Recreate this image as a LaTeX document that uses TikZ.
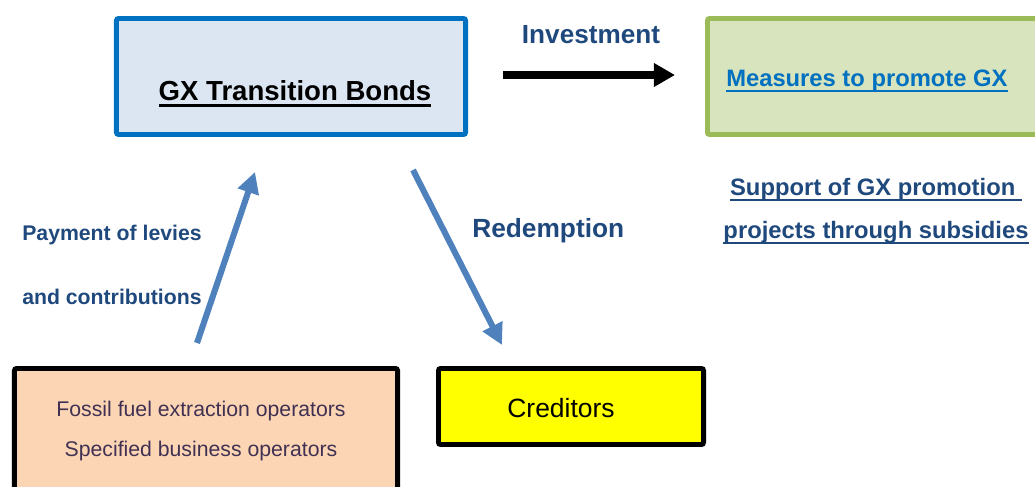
\documentclass[tikz,border=0pt]{standalone}
\usepackage{fontspec}
\setmainfont{Liberation Sans}
\usetikzlibrary{
    arrows.meta,
    positioning
}
% underline with a rule that scales with the font
\newcommand{\ulined}[1]{\setbox0=\hbox{#1}\rlap{\rule[-0.25em]{\wd0}{0.09em}}\box0}

\begin{document}
\begin{tikzpicture}[
    x=0.025cm, y=-0.025cm,
    box/.style={
    	draw, line width=3.5pt,
    	rounded corners=1.5pt, inner sep=0pt, anchor=center
    }, lbl/.style={
    	anchor=base, inner sep=0pt, text=my-navy,
    	font=\fontsize{15.1}{18}\selectfont\bfseries
    }, pil/.style={
    	-{Triangle[length=15pt, width=15pt]},
    	line width=4.3pt, draw=my-steel
    }]
    \definecolor{my-navy}{RGB}{31, 73, 125}
    \definecolor{my-blue}{RGB}{0, 112, 192}
    \definecolor{my-lightblue}{RGB}{220, 230, 242}
    \definecolor{my-green}{RGB}{155, 187, 89}
    \definecolor{my-lightgreen}{RGB}{215, 228, 189}
    \definecolor{my-steel}{RGB}{79, 129, 189}
    \definecolor{my-peach}{RGB}{252, 213, 181}
    \definecolor{my-purple}{RGB}{64, 49, 82}
    \definecolor{my-yellow}{RGB}{255, 255, 0}

    \useasboundingbox (0,0) rectangle (1035,487);

    %%% BOXES
    \node[box, draw=my-blue, fill=my-lightblue, minimum width=8.725cm, minimum height=2.9cm] (bonds) at (291,76.5) {};
    \node[lbl, text=black, font=\fontsize{19.6}{23}\selectfont\bfseries] (bonds-text) at (295,100) {\ulined{GX Transition Bonds}};

    \node[box, draw=my-green, fill=my-lightgreen, minimum width=8.5625cm, minimum height=2.9cm] (measures) at (878.75,76.5) {};
    \node[lbl, anchor=base west, text=my-blue, font=\fontsize{16.9}{20}\selectfont\bfseries] (measures-text) at (726,86) {\ulined{Measures to promote GX}};

    \node[box, fill=my-peach, minimum width=9.575cm, minimum height=3.7875cm] (operators) at (206,444.25) {};
    \node[lbl, text=my-purple, font=\fontsize{15.1}{18}\selectfont] (operators-1) at (201,416) {Fossil fuel extraction operators};
    \node[lbl, text=my-purple, font=\fontsize{15.1}{18}\selectfont] (operators-2) at (201,456) {Specified business operators};

    \node[box, fill=my-yellow, minimum width=6.625cm, minimum height=1.9cm] (creditors) at (571,406.5) {};
    \node[lbl, text=black, font=\fontsize{18.8}{22}\selectfont] (creditors-text) at (561,417) {Creditors};

    %%% LABELS
    \node[lbl, font=\fontsize{18.6}{22}\selectfont\bfseries] (investment) at (591,43) {Investment};
    \node[lbl, anchor=base west, font=\fontsize{18.7}{22}\selectfont\bfseries] (redemption) at (472,237) {Redemption};
    \node[lbl, anchor=base west] (levies-1) at (22,240) {Payment of levies};
    \node[lbl, anchor=base west] (levies-2) at (22,304) {and contributions};
    \node[lbl, font=\fontsize{16.9}{20}\selectfont\bfseries] (support-1) at (876,195) {\ulined{Support of GX promotion\ }};
    \node[lbl, font=\fontsize{16.9}{20}\selectfont\bfseries] (support-2) at (876,238) {\ulined{projects through subsidies}};

    %%% EDGES
    \coordinate (invest-from) at (503,75);
    \coordinate (invest-to) at (675,75);
    \coordinate (levy-from) at (197,343);
    \coordinate (levy-to) at (255,172);
    \coordinate (redeem-from) at (413,170);
    \coordinate (redeem-to) at (502,345);

    \draw[-{Triangle[length=15pt, width=16pt]}, line width=5pt] (invest-from) -- (invest-to);
    \draw[pil] (levy-from) -- (levy-to);
    \draw[pil] (redeem-from) -- (redeem-to);
    %%% EDGES

\end{tikzpicture}
\end{document}
